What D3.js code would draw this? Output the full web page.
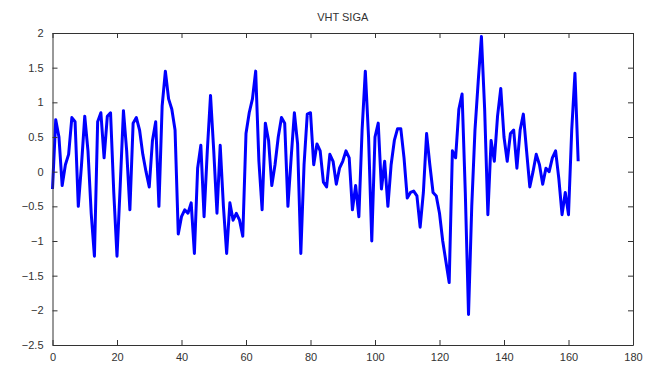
<!DOCTYPE html>
<html>
<head>
<meta charset="utf-8">
<script src="https://cdn.jsdelivr.net/npm/d3@7"></script>
<style>
  body { margin: 0; background: #fff; }
  text { font-family: "Liberation Sans", Arial, sans-serif; }
</style>
</head>
<body>
<div id="viz"></div>
<script>
// signal samples, index 0..163
const values = [
  -0.25, 0.75, 0.5, -0.2, 0.1, 0.25, 0.78, 0.72, -0.5, 0.1,
  0.8, 0.3, -0.6, -1.22, 0.72, 0.85, 0.2, 0.8, 0.85, -0.3,
  -1.22, -0.2, 0.88, 0.3, -0.55, 0.7, 0.78, 0.6, 0.25, 0.0,
  -0.22, 0.45, 0.72, -0.5, 0.95, 1.45, 1.05, 0.9, 0.6, -0.9,
  -0.65, -0.55, -0.6, -0.45, -1.18, 0.05, 0.38, -0.65, 0.3, 1.1,
  0.3, -0.6, 0.38, -0.5, -1.18, -0.45, -0.7, -0.6, -0.7, -0.93,
  0.55, 0.85, 1.05, 1.45, 0.15, -0.55, 0.7, 0.45, -0.2, 0.1,
  0.5, 0.78, 0.7, -0.5, 0.2, 0.85, 0.4, -1.18, 0.1, 0.83,
  0.85, 0.1, 0.4, 0.3, -0.15, -0.22, 0.25, 0.15, -0.18, 0.05,
  0.15, 0.3, 0.2, -0.55, -0.2, -0.65, 0.6, 1.45, 0.5, -1.0,
  0.5, 0.7, -0.25, 0.15, -0.5, 0.1, 0.45, 0.62, 0.62, 0.2,
  -0.38, -0.3, -0.28, -0.35, -0.8, -0.3, 0.55, 0.1, -0.3, -0.35,
  -0.6, -1.0, -1.3, -1.6, 0.3, 0.2, 0.9, 1.12, -0.3, -2.06,
  -0.5, 0.6, 1.3, 1.95, 0.9, -0.62, 0.45, 0.15, 0.8, 1.2,
  0.5, 0.15, 0.55, 0.6, 0.05, 0.6, 0.83, 0.3, -0.22, 0.0,
  0.25, 0.1, -0.18, 0.05, 0.0, 0.2, 0.3, -0.1, -0.62, -0.3,
  -0.62, 0.6, 1.42, 0.15
];
const xTicks = [0, 20, 40, 60, 80, 100, 120, 140, 160, 180];
const yTicks = [-2.5, -2, -1.5, -1, -0.5, 0, 0.5, 1, 1.5, 2];
const title = 'VHT SIGA';

const width = 662, height = 369;
const margin = { top: 33, right: 29, bottom: 24, left: 52.5 };

const svg = d3.select('#viz').append('svg')
  .attr('width', width)
  .attr('height', height);

const xScale = d3.scaleLinear()
  .domain([0, 180])
  .range([margin.left, width - margin.right]);

const yScale = d3.scaleLinear()
  .domain([-2.5, 2])
  .range([height - margin.bottom, margin.top]);

const line = d3.line()
  .x((d, i) => xScale(i))
  .y(d => yScale(d));

svg.append('path')
  .datum(values)
  .attr('d', line)
  .style('fill', 'none')
  .style('stroke', '#0000ff')
  .style('stroke-width', 3)
  .style('stroke-linejoin', 'round');

// matlab style box with inward ticks on all sides
const tickLen = 5;
const fmt = d3.format('');
function styleAxis(g) {
  g.select('.domain').style('stroke', '#333');
  g.selectAll('.tick line').style('stroke', '#333');
  g.selectAll('.tick text')
    .style('fill', '#333')
    .style('font-size', '11px')
    .style('font-family', '"Liberation Sans", Arial, sans-serif');
}

svg.append('g')
  .attr('transform', `translate(0, ${yScale(-2.5)})`)
  .call(d3.axisBottom(xScale).tickValues(xTicks).tickFormat(fmt)
    .tickSizeInner(-tickLen).tickSizeOuter(0).tickPadding(8))
  .call(styleAxis);

svg.append('g')
  .attr('transform', `translate(0, ${yScale(2)})`)
  .call(d3.axisTop(xScale).tickValues(xTicks).tickFormat('')
    .tickSizeInner(-tickLen).tickSizeOuter(0))
  .call(styleAxis);

svg.append('g')
  .attr('transform', `translate(${xScale(0)}, 0)`)
  .call(d3.axisLeft(yScale).tickValues(yTicks).tickFormat(fmt)
    .tickSizeInner(-tickLen).tickSizeOuter(0).tickPadding(9))
  .call(styleAxis);

svg.append('g')
  .attr('transform', `translate(${xScale(180)}, 0)`)
  .call(d3.axisRight(yScale).tickValues(yTicks).tickFormat('')
    .tickSizeInner(-tickLen).tickSizeOuter(0))
  .call(styleAxis);

svg.append('text')
  .attr('x', (xScale(0) + xScale(180)) / 2)
  .attr('y', 21)
  .attr('text-anchor', 'middle')
  .style('font-size', '11px')
  .style('fill', '#333')
  .text(title);
</script>
</body>
</html>
